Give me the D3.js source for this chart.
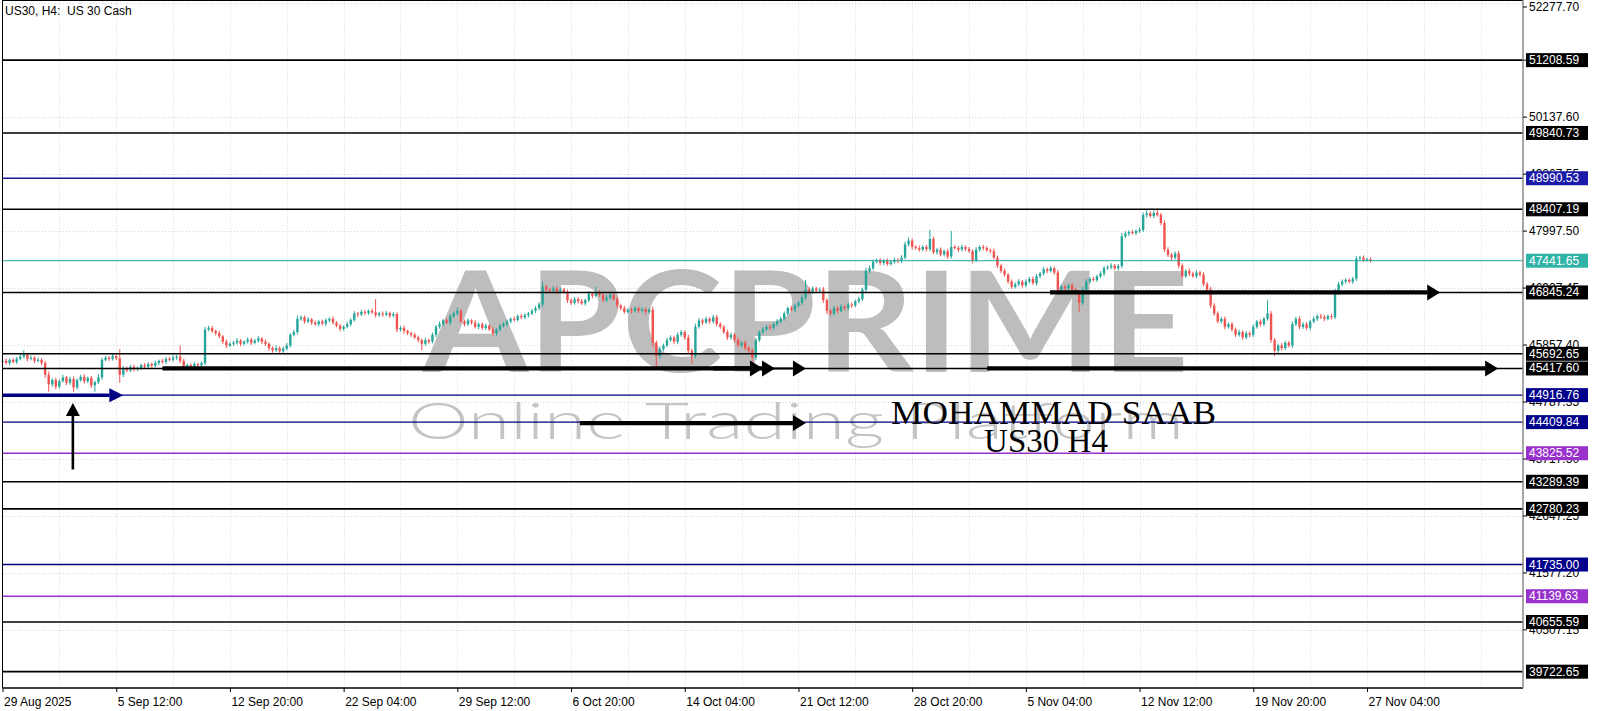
<!DOCTYPE html>
<html><head><meta charset="utf-8">
<script src="https://cdn.jsdelivr.net/npm/d3@7"></script>
<style>html,body{margin:0;padding:0;background:#fff;overflow:hidden}</style>
</head><body><svg id="c" width="1600" height="711"></svg>
<script>
// ---------- DATA ----------
const firstOpen = 45540;
const closes = [
45560,45520,45580,45540,45600,45640,45680,45600,45620,45560,
45580,45520,45300,45120,45200,45080,45180,45250,45150,45220,
45060,45200,45260,45180,45240,45100,45160,45250,45580,45620,
45600,45650,45610,45300,45420,45380,45450,45400,45430,45480,
45450,45500,45470,45520,45560,45540,45600,45580,45620,45640,
45560,45450,45480,45460,45500,45480,45520,46150,46180,46120,
46080,46020,45920,45850,45880,45900,45940,45880,45920,45960,
45900,45940,45980,45920,45880,45800,45760,45800,45740,45790,
45850,46050,46100,46350,46380,46300,46340,46280,46250,46300,
46260,46320,46350,46280,46220,46160,46200,46250,46330,46450,
46430,46480,46460,46500,46470,46420,46450,46430,46460,46410,
46440,46150,46180,46120,46080,46050,46000,45950,45880,45950,
45920,46050,46200,46250,46320,46280,46400,46450,46500,46300,
46250,46320,46280,46200,46250,46180,46220,46150,46080,46150,
46220,46250,46300,46350,46330,46400,46380,46420,46450,46500,
46550,46620,46950,46900,46880,46920,46860,46900,46850,46700,
46650,46720,46680,46640,46700,46820,46780,46850,46800,46700,
46750,46800,46720,46600,46550,46480,46520,46500,46550,46500,
46530,46480,46520,45900,45650,45780,45850,45950,46000,45920,
46050,46100,46000,45750,45650,46200,46320,46280,46350,46300,
46380,46250,46200,46100,46000,46050,45950,45850,45900,45800,
45750,45620,45950,46100,46150,46200,46180,46250,46300,46350,
46450,46550,46520,46600,46650,46750,46900,46850,46920,46880,
46900,46700,46500,46450,46550,46500,46580,46550,46620,46600,
46680,46720,46900,47250,47300,47420,47450,47400,47440,47380,
47420,47460,47440,47500,47750,47820,47700,47680,47650,47700,
47660,47850,47600,47650,47560,47620,47520,47700,47680,47650,
47700,47660,47620,47450,47650,47700,47680,47640,47620,47500,
47350,47250,47180,47050,46950,47000,47050,46980,47050,47100,
47020,47150,47200,47280,47250,47300,47220,46900,46950,46920,
46980,46900,46850,46650,46900,47050,47100,47080,47150,47200,
47300,47320,47350,47300,47340,47900,47950,47980,47960,48000,
48020,48300,48330,48280,48340,48300,48150,47650,47550,47500,
47580,47350,47150,47250,47200,47150,47220,47180,47000,46900,
46600,46450,46300,46350,46200,46250,46150,46050,46100,46000,
46080,46050,46200,46300,46250,46350,46450,45950,45750,45850,
45800,45900,45850,46250,46350,46200,46250,46180,46300,46350,
46400,46380,46350,46400,46380,46850,47000,47050,47080,47050,
47100,47480,47500,47460,47470,47441.65];
const upperWicks = [
30,45,25,40,35,50,80,30,40,25, 35,30,40,60,35,45,30,50,25,40,
45,30,35,50,25,40,30,60,40,35, 25,40,30,170,45,30,35,40,25,30,
40,35,30,45,25,40,30,35,50,30, 210,40,30,35,45,25,30,50,40,35,
30,45,25,40,30,35,50,30,25,40, 35,30,45,25,40,30,35,50,30,40,
45,30,40,60,35,30,45,25,40,30, 35,40,30,45,25,35,30,40,30,45,
30,40,35,25,45,250,30,40,35,25, 40,30,35,45,25,30,40,35,30,45,
30,40,35,50,30,45,35,40,60,30, 35,40,25,45,30,35,40,30,45,25,
30,40,35,25,45,30,40,35,30,40, 35,45,100,40,30,45,35,40,30,45,
30,40,35,45,30,50,35,100,40,30, 45,35,30,40,35,45,30,40,35,30,
40,35,30,60,40,50,35,45,40,30, 45,40,35,50,40,60,45,35,40,30,
45,40,35,30,45,40,35,50,30,40, 35,45,40,30,45,35,40,30,45,35,
40,30,45,35,40,50,180,45,40,35, 40,45,35,30,40,35,45,30,40,35,
30,45,40,60,50,45,35,40,30,45, 35,40,30,45,50,60,40,35,45,30,
40,170,45,35,40,30,45,300,40,35, 45,30,40,35,45,30,40,35,30,45,
40,35,45,30,40,35,45,30,40,35, 45,40,30,45,35,40,30,50,35,40,
30,45,35,40,50,45,35,40,30,45, 40,35,45,30,40,60,45,35,40,30,
45,50,60,40,45,80,40,50,45,40, 35,45,40,30,45,35,40,30,45,40,
50,45,40,35,45,30,40,35,45,30, 40,35,45,30,40,35,250,45,40,35,
45,40,35,50,40,45,35,40,30,45, 35,40,45,30,40,60,45,40,35,30,
40,50,35,40,30,35];
const lowerWicks = [
35,30,45,25,40,30,35,50,30,40, 25,40,60,140,45,50,35,30,45,40,
80,35,30,45,40,50,120,35,45,30, 40,35,30,150,45,35,30,40,35,45,
30,40,35,30,45,35,40,30,35,40, 45,50,35,40,30,45,35,40,30,35,
40,35,45,50,30,40,35,45,30,35, 40,30,35,45,40,50,45,35,50,30,
35,40,30,45,35,40,30,45,35,40, 30,45,35,40,30,45,35,30,40,35,
45,30,40,35,30,45,35,40,30,45, 35,50,40,45,35,40,30,45,120,35,
40,30,45,35,40,30,45,35,40,30, 45,35,40,30,45,35,40,30,45,50,
35,30,45,40,35,30,40,35,45,30, 40,35,45,40,35,30,45,40,35,50,
40,35,45,30,40,35,45,30,40,45, 35,40,30,45,40,35,30,45,35,40,
30,45,35,80,200,45,40,35,30,45, 40,35,45,60,150,40,35,45,30,40,
35,45,40,35,50,40,45,35,40,45, 50,90,45,35,40,30,45,35,40,30,
35,40,30,45,35,40,45,35,40,30, 45,50,60,40,35,45,30,40,35,45,
30,40,35,45,40,35,30,45,40,35, 30,35,45,40,35,40,45,35,40,30,
45,40,35,45,40,35,45,40,30,45, 35,40,30,60,35,40,45,30,40,35,
45,40,35,45,40,30,35,45,40,35, 30,45,40,35,45,30,40,50,35,45,
40,35,45,170,40,35,45,30,40,35, 45,30,40,35,45,40,35,45,30,40,
35,40,45,30,40,35,45,50,40,45, 35,45,40,35,45,30,40,35,40,45,
50,45,35,40,45,35,40,45,35,40, 35,45,40,35,45,40,35,50,100,40,
45,35,40,50,35,45,40,35,45,30, 40,35,45,30,40,35,45,40,35,30,
45,40,35,45,30,35];

const priceTicks = [52277.70,51207.65,50137.60,49067.55,47997.50,46927.45,45857.40,44787.35,43717.30,42647.25,41577.20,40507.15];
const timeTickIndex = [0,32,64,96,128,160,192,224,256,288,320,352,384];
const timeTickLabels = ["29 Aug 2025","5 Sep 12:00","12 Sep 20:00","22 Sep 04:00","29 Sep 12:00","6 Oct 20:00","14 Oct 04:00","21 Oct 12:00","28 Oct 20:00","5 Nov 04:00","12 Nov 12:00","19 Nov 20:00","27 Nov 04:00"];

const levelPrices = [51208.59,49840.73,48990.53,48407.19,47441.65,46845.24,45692.65,45417.60,44916.76,44409.84,43825.52,43289.39,42780.23,41735.00,41139.63,40655.59,39722.65];
const levelKinds  = ["black","black","blue","black","bid","black","black","black","navy","navy","purple","black","black","navy","purple","black","black"];

// trend arrows: [barFrom, priceFrom, barTo, priceTo, kind]
const arrowList = [
  [0, 44916.76, 34, 44916.76, "navyThick"],
  [19.8, 43520, 19.8, 44770, "vert"],
  [45, 45417.60, 214, 45417.60, "thick"],
  [200, 45417.60, 217.4, 45417.60, "thick"],
  [214, 45417.60, 226.1, 45417.60, "thin"],
  [277.1, 45417.60, 420.9, 45417.60, "thick"],
  [294.8, 46845.24, 404.6, 46845.24, "thick"],
  [162.5, 44392, 226.1, 44392, "thick"]
];

const titleText = "US30, H4:  US 30 Cash";
const authorText = "MOHAMMAD SAAB";
const subText = "US30 H4";

// ---------- SCALES ----------
const L = 3, R = 1523, T = 0.5, B = 688;
const x = d3.scaleLinear().domain([0, 384]).range([2.5, 1367]);
const y = d3.scaleLinear().domain([39416, 52338]).range([688, 0]);

const svg = d3.select("#c");
const fontUI = "'Liberation Sans', Arial, sans-serif";

// grid
const grid = svg.append("g");
for (let k = 1; k * 16 <= 427; k++) {
  const gx = Math.round(x(k * 16)) + 0.5;
  grid.append("line").attr("x1", gx).attr("x2", gx).attr("y1", T).attr("y2", B)
    .attr("stroke", "#d6d6d6").attr("stroke-dasharray", "1,2");
}
priceTicks.forEach(p => {
  const gy = Math.round(y(p)) + 0.5;
  grid.append("line").attr("x1", L).attr("x2", R).attr("y1", gy).attr("y2", gy)
    .attr("stroke", "#d6d6d6").attr("stroke-dasharray", "1,2");
});

// watermark
svg.append("text").text("APCPRIME")
  .attr("x", 423).attr("y", 372).attr("textLength", 766).attr("lengthAdjust", "spacingAndGlyphs")
  .attr("font-family", "Lato, sans-serif").attr("font-weight", 700).attr("font-size", 139)
  .attr("fill", "#bdbdbd");
svg.append("text").text("Online Trading Platform")
  .attr("x", 408).attr("y", 439).attr("textLength", 776).attr("lengthAdjust", "spacingAndGlyphs")
  .attr("font-family", "Lato, sans-serif").attr("font-weight", 300).attr("font-size", 52)
  .attr("fill", "#c4c4c4");

// candles
const bars = closes.map((c, i) => {
  const o = i === 0 ? firstOpen : closes[i - 1];
  return { i, o, c, h: Math.max(o, c) + upperWicks[i], l: Math.min(o, c) - lowerWicks[i] };
});
const cg = svg.append("g");
bars.forEach(b => {
  const col = b.c >= b.o ? "#26a69a" : "#ef5350";
  const cx = x(b.i);
  cg.append("line").attr("x1", cx).attr("x2", cx).attr("y1", y(b.h)).attr("y2", y(b.l))
    .attr("stroke", col).attr("stroke-width", 1);
  const top = y(Math.max(b.o, b.c)), bot = y(Math.min(b.o, b.c));
  cg.append("rect").attr("x", cx - 1.2).attr("width", 2.4)
    .attr("y", top).attr("height", Math.max(1, bot - top)).attr("fill", col);
});

// levels
const lineColor = { black: "#000", blue: "#1a1a9a", navy: "#000080", purple: "#9932cc", bid: "#26a69a" };
const lineWidth = { black: 1.6, blue: 1.4, navy: 1.4, purple: 1.4, bid: 1 };
const lg = svg.append("g");
levelPrices.forEach((p, k) => {
  const kind = levelKinds[k];
  lg.append("line").attr("x1", L).attr("x2", R).attr("y1", y(p)).attr("y2", y(p))
    .attr("stroke", lineColor[kind]).attr("stroke-width", lineWidth[kind]);
});

// arrows
const ag = svg.append("g");
const arrowStyle = {
  navyThick: { c: "#000080", w: 3.5, hl: 14, hw: 7 },
  vert: { c: "#000", w: 2.6, hl: 13, hw: 7 },
  thick: { c: "#000", w: 4.2, hl: 13, hw: 8 },
  thin: { c: "#000", w: 2, hl: 13, hw: 8 }
};
arrowList.forEach(a => {
  const s = arrowStyle[a[4]];
  const x1 = x(a[0]), y1 = y(a[1]), x2 = x(a[2]), y2 = y(a[3]);
  const dx = x2 - x1, dy = y2 - y1, len = Math.hypot(dx, dy);
  const ux = dx / len, uy = dy / len;
  const bx = x2 - ux * s.hl, by = y2 - uy * s.hl;
  ag.append("line").attr("x1", x1).attr("y1", y1).attr("x2", bx).attr("y2", by)
    .attr("stroke", s.c).attr("stroke-width", s.w);
  const px = -uy, py = ux;
  ag.append("path").attr("d", `M${x2},${y2}L${bx + px * s.hw},${by + py * s.hw}L${bx - px * s.hw},${by - py * s.hw}Z`)
    .attr("fill", s.c);
});

// author text
svg.append("text").text(authorText).attr("x", 891).attr("y", 424).attr("textLength", 325).attr("lengthAdjust", "spacingAndGlyphs")
  .attr("font-family", "'Liberation Serif', 'Times New Roman', serif").attr("font-size", 34).attr("fill", "#000");
svg.append("text").text(subText).attr("x", 1046).attr("y", 452).attr("text-anchor", "middle")
  .attr("font-family", "'Liberation Serif', 'Times New Roman', serif").attr("font-size", 33).attr("fill", "#000");

// frame
svg.append("line").attr("x1", 2.5).attr("x2", 2.5).attr("y1", 0).attr("y2", B).attr("stroke", "#000").attr("stroke-width", 1);
svg.append("line").attr("x1", 2.5).attr("x2", R).attr("y1", 0.5).attr("y2", 0.5).attr("stroke", "#000").attr("stroke-width", 1);
svg.append("line").attr("x1", 2.5).attr("x2", R).attr("y1", B).attr("y2", B).attr("stroke", "#000").attr("stroke-width", 1.5);
svg.append("line").attr("x1", R).attr("x2", R).attr("y1", 0).attr("y2", B).attr("stroke", "#8a8a8a").attr("stroke-width", 1.5);

// title
svg.append("text").text(titleText).attr("x", 5).attr("y", 15).style("white-space", "pre")
  .attr("font-family", fontUI).attr("font-size", 12).attr("fill", "#000");

// y axis (price)
const yAxis = d3.axisRight(y).tickValues(priceTicks).tickSize(4).tickPadding(2).tickFormat(d3.format(".2f"));
const yg = svg.append("g").attr("transform", `translate(${R},0)`).call(yAxis);
yg.select(".domain").remove();
yg.selectAll("line").attr("stroke", "#000");
yg.selectAll("text").attr("font-family", fontUI).attr("font-size", 12).attr("fill", "#000")
  .attr("dy", null).attr("dominant-baseline", "central");
yg.selectAll(".tick").attr("transform", d => `translate(0,${Math.max(7, y(d))})`);

// x axis (time)
const xAxis = d3.axisBottom(x).tickValues(timeTickIndex).tickSize(4).tickFormat((d, k) => timeTickLabels[k]);
const xg = svg.append("g").attr("transform", `translate(0,${B})`).call(xAxis);
xg.select(".domain").remove();
xg.selectAll("line").attr("stroke", "#000");
xg.selectAll("text").attr("font-family", fontUI).attr("font-size", 12).attr("fill", "#000")
  .attr("text-anchor", "start").attr("x", 1).attr("y", 9).attr("dy", "0.71em");

// level labels
const boxColor = { black: "#000", blue: "#1a1aa8", navy: "#00008b", purple: "#9932cc", bid: "#2fb3a6" };
const lab = svg.append("g");
levelPrices.forEach((p, k) => {
  const kind = levelKinds[k];
  const ly = y(p);
  lab.append("rect").attr("x", 1526).attr("y", ly - 7).attr("width", 62).attr("height", 14).attr("fill", boxColor[kind]);
  lab.append("text").text(d3.format(".2f")(p)).attr("x", 1529).attr("y", ly).attr("dominant-baseline", "central")
    .attr("font-family", fontUI).attr("font-size", 12).attr("fill", "#fff");
});
</script></body></html>
